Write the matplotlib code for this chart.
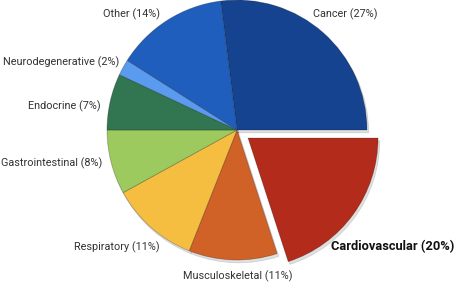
import matplotlib.pyplot as plt

# Data
categories = ['Cancer', 'Cardiovascular', 'Musculoskeletal', 'Respiratory',
              'Gastrointestinal', 'Endocrine', 'Neurodegenerative', 'Other']
shares = [27, 20, 11, 11, 8, 7, 2, 14]
colors = ['#16438f', '#b32c1b', '#d06127', '#f5be41',
          '#9dca5f', '#327551', '#5b9bef', '#1f5ebd']
explode_frac = [0, 0.105, 0, 0, 0, 0, 0, 0]

# label placement (pixel coords of the picture, y from top) and alignment
label_pos = [(313, 14, 'left'), (331, 247, 'left'), (238, 276, 'center'),
             (160, 247, 'right'), (102, 163, 'right'), (101, 106, 'right'),
             (119, 62, 'right'), (160, 14, 'right')]

W, H = 458, 284
R = 130
fig = plt.figure(figsize=(W / 100, H / 100), dpi=100)
ax = fig.add_axes([0, 0, 1, 1])

# pie's explode is in data units here, so scale by the radius
wedges, _ = ax.pie(shares, colors=colors, explode=[e * R for e in explode_frac],
                   startangle=97.2, counterclock=False,
                   center=(237, H - 130), radius=R,
                   wedgeprops=dict(edgecolor='#00000040', linewidth=0.6),
                   shadow=dict(ox=1.2, oy=-2.0, shade=0.0, color='#000000', alpha=0.12))
ax.set_xlim(0, W)
ax.set_ylim(0, H)
ax.set_aspect('equal')
ax.axis('off')

for cat, s, (x, y, ha) in zip(categories, shares, label_pos):
    bold = cat == 'Cardiovascular'
    ax.text(x, H - y, f'{cat} ({s}%)', ha=ha, va='center',
            fontsize=9.3 if bold else 7.8,
            fontweight='bold' if bold else 'normal',
            color='#111111' if bold else '#333333', family='Roboto')

fig.savefig('out.png', dpi=100)
